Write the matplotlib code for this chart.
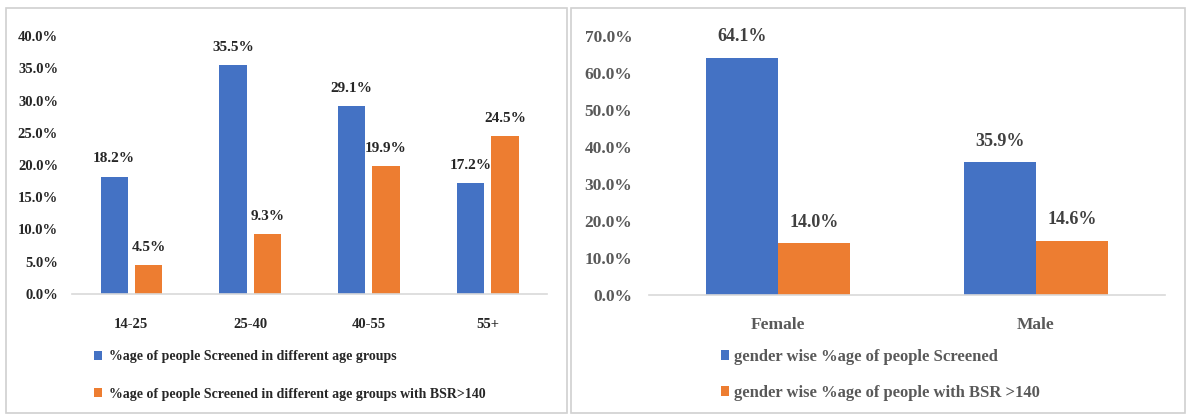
import numpy as np
import matplotlib.pyplot as plt
from matplotlib.patches import Rectangle

# ------------------------------------------------------------
# Data
# ------------------------------------------------------------
age_groups = ["14-25", "25-40", "40-55", "55+"]
age_screened = [18.2, 35.5, 29.1, 17.2]
age_bsr = [4.5, 9.3, 19.9, 24.5]

genders = ["Female", "Male"]
gender_screened = [64.1, 35.9]
gender_bsr = [14.0, 14.6]

BLUE = "#4472C4"
ORANGE = "#ED7D31"
GRID = "#D9D9D9"

plt.rcParams["font.family"] = ["Liberation Serif", "DejaVu Serif"]
plt.rcParams["font.weight"] = "bold"

fig = plt.figure(figsize=(11.92, 4.17), dpi=100)
W, H = 1192, 417


def px(x0, y0, x1, y1):
    # pixel box (top-left origin) -> figure fraction [l, b, w, h]
    return [x0 / W, 1 - y1 / H, (x1 - x0) / W, (y1 - y0) / H]


# panel borders
for (x0, x1) in [(6, 567), (571, 1185)]:
    l, b, w, h = px(x0, 8, x1, 413)
    fig.patches.append(Rectangle((l, b), w, h, transform=fig.transFigure,
                                 fill=False, edgecolor="#D0D0D0", linewidth=1.2))


def style_axes(ax, color, size):
    for s in ["top", "right", "left"]:
        ax.spines[s].set_visible(False)
    ax.spines["bottom"].set_color(GRID)
    ax.spines["bottom"].set_linewidth(1.2)
    ax.tick_params(length=0, colors=color, labelsize=size)
    ax.yaxis.set_major_formatter(lambda v, p: f"{v:.1f}%")
    for t in ax.get_xticklabels() + ax.get_yticklabels():
        t.set_fontweight("bold")


# ------------------------------------------------------------
# Left: age groups
# ------------------------------------------------------------
ax1 = fig.add_axes(px(72, 36, 547, 294))
x = np.arange(len(age_groups))
bw = 0.23
b1 = ax1.bar(x - bw / 2 - 0.03, age_screened, bw, color=BLUE,
             label="%age of people Screened in different age groups")
b2 = ax1.bar(x + bw / 2 + 0.03, age_bsr, bw, color=ORANGE,
             label="%age of people Screened in different age groups with BSR>140")
for bars in (b1, b2):
    for r in bars:
        ax1.annotate(f"{r.get_height():.1f}%", (r.get_x() + r.get_width() / 2, r.get_height()),
                     xytext=(0, 8), textcoords="offset points", ha="center", va="bottom",
                     fontsize=11, fontweight="bold", color="#262626")
ax1.set_xlim(-0.5, len(age_groups) - 0.5)
ax1.set_ylim(0, 40)
ax1.set_yticks(np.arange(0, 41, 5))
ax1.set_xticks(x)
ax1.set_xticklabels(age_groups)
style_axes(ax1, "#262626", 10.5)
ax1.tick_params(axis="x", pad=17)
ax1.tick_params(axis="y", pad=10)
ax1.legend(loc="upper left", bbox_to_anchor=(0.02, -0.17), frameon=False,
           handlelength=0.6, handleheight=0.6, handletextpad=0.5,
           labelspacing=1.75, labelcolor="#262626",
           prop={"weight": "bold", "size": 10})

# ------------------------------------------------------------
# Right: gender
# ------------------------------------------------------------
ax2 = fig.add_axes(px(649, 36, 1165, 295))
x2 = np.arange(len(genders))
bw2 = 0.28
c1 = ax2.bar(x2 - bw2 / 2, gender_screened, bw2, color=BLUE,
             label="gender wise %age of people Screened")
c2 = ax2.bar(x2 + bw2 / 2, gender_bsr, bw2, color=ORANGE,
             label="gender wise %age of people with BSR >140")
for bars in (c1, c2):
    for r in bars:
        ax2.annotate(f"{r.get_height():.1f}%", (r.get_x() + r.get_width() / 2, r.get_height()),
                     xytext=(0, 9), textcoords="offset points", ha="center", va="bottom",
                     fontsize=13, fontweight="bold", color="#404040")
ax2.set_xlim(-0.5, len(genders) - 0.5)
ax2.set_ylim(0, 70)
ax2.set_yticks(np.arange(0, 71, 10))
ax2.set_xticks(x2)
ax2.set_xticklabels(genders)
style_axes(ax2, "#595959", 12.5)
ax2.tick_params(axis="x", pad=16)
ax2.tick_params(axis="y", pad=12)
ax2.legend(loc="upper left", bbox_to_anchor=(0.11, -0.15), frameon=False,
           handlelength=0.5, handleheight=0.6, handletextpad=0.3,
           labelspacing=1.2, labelcolor="#595959",
           prop={"weight": "bold", "size": 12})

fig.savefig("out.png", dpi=100)
